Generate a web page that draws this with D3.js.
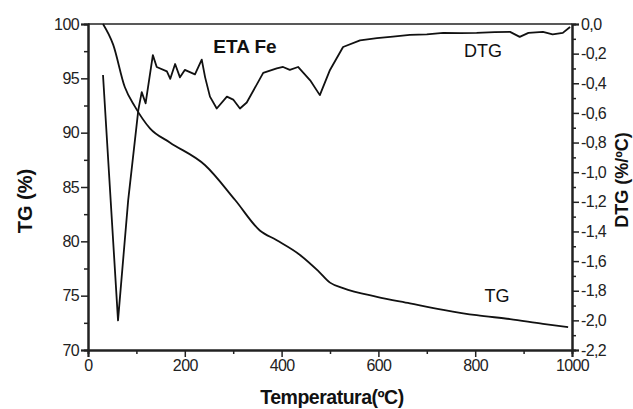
<!DOCTYPE html>
<html>
<head>
<meta charset="utf-8">
<script src="https://cdn.jsdelivr.net/npm/d3@7"></script>
<style>
  body { margin: 0; background: #fff; }
  text { font-family: "Liberation Sans", Arial, sans-serif; }
</style>
</head>
<body>
<div id="chart"></div>
<script>
'use strict';

// data ------------------------------------------
const tgTemp = [31, 52, 76, 97, 128, 169, 242, 304, 355, 390, 438, 475, 500, 527, 597, 665, 734, 803, 872, 940, 992];
const tgVal  = [100, 98.1, 94.2, 92.4, 90.4, 89.1, 87.0, 83.8, 81.0, 80.1, 78.75, 77.3, 76.2, 75.7, 74.9, 74.3, 73.7, 73.2, 72.85, 72.4, 72.1];

const dtgTemp = [31, 62, 83, 104, 111, 119, 134, 142, 163, 170, 180, 190, 200, 221, 235, 242, 252, 266, 287, 300, 314, 328, 362, 390, 403, 417, 434, 459, 479, 500, 527, 562, 597, 630, 665, 700, 734, 770, 803, 840, 872, 892, 910, 940, 960, 981, 996];
const dtgVal  = [-0.344, -2.0, -1.19, -0.58, -0.46, -0.535, -0.21, -0.29, -0.32, -0.37, -0.27, -0.36, -0.31, -0.34, -0.24, -0.36, -0.49, -0.57, -0.49, -0.51, -0.57, -0.53, -0.33, -0.30, -0.29, -0.31, -0.29, -0.38, -0.48, -0.31, -0.155, -0.11, -0.096, -0.085, -0.074, -0.07, -0.06, -0.062, -0.06, -0.055, -0.053, -0.087, -0.06, -0.053, -0.07, -0.06, -0.02];

const xTicks   = [0, 200, 400, 600, 800, 1000];
const tgTicks  = [70, 75, 80, 85, 90, 95, 100];
const dtgTicks = [0, -0.2, -0.4, -0.6, -0.8, -1.0, -1.2, -1.4, -1.6, -1.8, -2.0, -2.2];

// layout ---------------------
const width   = 633
const height  = 409
const padL    = 88
const padR    = 572
const padT    = 24
const padB    = 350

var svg = d3.select('#chart').append('svg')
    .attr('width', width)
    .attr('height', height);

var x  = d3.scaleLinear().domain([0, 1000]).range([padL, padR]);
var yL = d3.scaleLinear().domain([70, 100]).range([padB, padT]);
var yR = d3.scaleLinear().domain([-2.2, 0]).range([padB, padT]);

var fmt = function(d) { return d3.format('.1f')(d).replace('.', ',').replace('−', '-') };

// minor ticks first
svg.append('g').attr('transform', 'translate(0,' + padB + ')')
    .call(d3.axisBottom(x).tickValues(d3.range(100, 1000, 200)).tickSize(4).tickFormat(''));
svg.append('g').attr('transform', 'translate(' + padL + ',0)')
    .call(d3.axisLeft(yL).tickValues(d3.range(72.5, 100, 5)).tickSize(4).tickFormat(''));
svg.append('g').attr('transform', 'translate(' + padR + ',0)')
    .call(d3.axisRight(yR).tickValues(d3.range(-2.1, 0, 0.2)).tickSize(4).tickFormat(''));

// main axes
var gx = svg.append('g').attr('transform', 'translate(0,' + padB + ')')
    .call(d3.axisBottom(x).tickValues(xTicks).tickSize(7).tickPadding(3).tickFormat(d3.format('d')));
var gl = svg.append('g').attr('transform', 'translate(' + padL + ',0)')
    .call(d3.axisLeft(yL).tickValues(tgTicks).tickSize(7).tickPadding(2));
var gr = svg.append('g').attr('transform', 'translate(' + padR + ',0)')
    .call(d3.axisRight(yR).tickValues(dtgTicks).tickSize(7).tickPadding(2).tickFormat(fmt));

svg.selectAll('.domain').attr('stroke', '#222').attr('stroke-width', 2);
svg.selectAll('.tick line').attr('stroke', '#222').attr('stroke-width', 1.5);
svg.selectAll('.tick text').attr('fill', '#222').attr('font-size', 16)
    .attr('font-family', '"Liberation Sans", Arial, sans-serif');
gr.selectAll('.tick text').attr('letter-spacing', -0.6);
gl.selectAll('.tick text').attr('letter-spacing', -0.6);
gx.selectAll('.tick text').attr('letter-spacing', -0.6);

// top frame line
svg.append('line')
    .attr('x1', padL).attr('x2', padR).attr('y1', padT).attr('y2', padT)
    .attr('stroke', '#222').attr('stroke-width', 1.5);

// curves
var tgLine = d3.line()
    .x(function(d, i) { return x(tgTemp[i]) })
    .y(function(d) { return yL(d) })
    .curve(d3.curveMonotoneX);
svg.append('path').datum(tgVal)
    .attr('d', tgLine)
    .attr('fill', 'none').attr('stroke', '#111').attr('stroke-width', 1.8);

var dtgLine = d3.line()
    .x(function(d, i) { return x(dtgTemp[i]) })
    .y(function(d) { return yR(d) });
svg.append('path').datum(dtgVal)
    .attr('d', dtgLine)
    .attr('fill', 'none').attr('stroke', '#111').attr('stroke-width', 1.8)
    .attr('stroke-linejoin', 'round');

// labels
svg.append('text').attr('x', 245).attr('y', 53).attr('text-anchor', 'middle')
    .attr('font-size', 19).attr('font-weight', 'bold').attr('fill', '#111')
    .text('ETA Fe');
svg.append('text').attr('x', 483).attr('y', 57).attr('text-anchor', 'middle')
    .attr('font-size', 18).attr('fill', '#111').text('DTG');
svg.append('text').attr('x', 497).attr('y', 302).attr('text-anchor', 'middle')
    .attr('font-size', 18).attr('fill', '#111').text('TG');

svg.append('text').attr('x', 332).attr('y', 404).attr('text-anchor', 'middle')
    .attr('font-size', 19.5).attr('font-weight', 'bold').attr('fill', '#111')
    .attr('letter-spacing', -0.5).text('Temperatura(ºC)');
svg.append('text').attr('transform', 'translate(32,201) rotate(-90)').attr('text-anchor', 'middle')
    .attr('font-size', 20).attr('font-weight', 'bold').attr('fill', '#111').text('TG (%)');
svg.append('text').attr('transform', 'translate(628,180) rotate(-90)').attr('text-anchor', 'middle')
    .attr('font-size', 18).attr('font-weight', 'bold').attr('fill', '#111').text('DTG (%/ºC)');
</script>
</body>
</html>
